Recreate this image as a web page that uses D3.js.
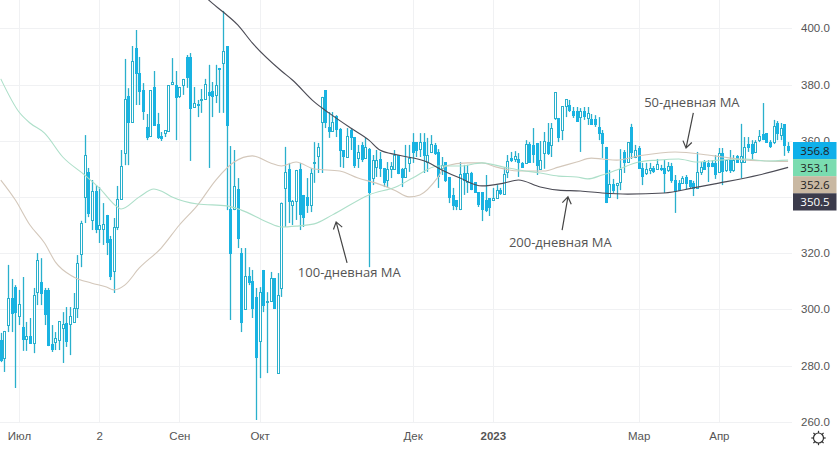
<!DOCTYPE html>
<html>
<head>
<meta charset="utf-8">
<script src="https://cdn.jsdelivr.net/npm/d3@7/dist/d3.min.js"></script>
<style>
html,body{margin:0;padding:0;background:#fff;}
svg{display:block;font-family:"Open Sans","Noto Sans",sans-serif;}
</style>
</head>
<body>
<svg id="chart" width="840" height="450"></svg>
<script>
const opens=[289.1,282.6,294.4,304.0,307.9,297.6,293.7,289.4,290.5,288.0,306.1,309.7,306.9,306.9,287.6,288.4,289.1,293.3,295.1,294.8,295.5,300.5,319.7,340.0,348.9,331.8,342.1,328.6,328.6,333.6,325.0,313.6,329.3,339.2,355.6,375.9,366.6,393.0,384.1,378.0,364.9,361.7,379.1,366.0,361.7,362.7,363.4,380.2,379.8,375.9,379.8,389.8,389.8,372.0,373.1,374.5,374.8,377.3,377.7,376.3,385.9,387.6,393.7,335.7,335.7,342.8,320.0,300.1,311.8,310.1,304.4,288.7,314.0,302.9,303.0,311.1,277.3,307.6,343.2,349.9,337.1,338.5,349.9,340.7,340.0,337.1,352.1,354.6,366.6,378.0,364.9,363.4,368.8,364.2,356.7,354.2,363.8,361.3,353.8,358.5,353.8,357.0,346.7,350.6,353.5,350.3,346.0,349.9,349.9,354.9,349.9,347.1,352.1,359.5,359.5,357.0,359.5,352.4,356.0,358.5,356.0,350.3,352.4,347.1,340.7,338.9,335.7,348.5,345.3,348.5,345.3,341.7,341.7,338.9,339.6,338.9,339.6,342.4,341.0,348.9,353.8,353.5,353.5,352.1,352.1,358.8,358.5,359.2,350.0,355.6,359.5,358.5,368.1,368.1,363.8,372.3,372.7,370.6,370.6,368.4,370.6,368.1,367.7,367.7,364.9,362.7,357.8,340.0,344.6,344.2,345.3,356.0,352.4,364.9,354.2,357.4,350.3,348.5,349.6,350.3,349.9,350.3,350.3,349.6,351.0,346.0,344.9,345.0,347.1,346.0,345.0,343.2,348.9,352.4,352.1,352.1,352.1,348.9,355.6,349.6,353.1,349.6,354.6,352.4,352.4,358.8,358.8,356.0,360.2,362.4,362.7,359.5,359.5,366.3,362.0,365.9,358.1];
const highs=[291.6,292.3,315.8,310.8,308.6,306.9,311.5,295.5,296.9,307.6,320.0,318.2,307.6,307.6,294.4,291.9,295.8,299.0,300.8,300.8,305.8,319.3,331.5,362.0,350.3,346.0,344.2,343.5,337.8,333.6,326.1,332.5,343.9,356.7,389.1,378.7,393.7,399.4,389.8,380.5,369.5,378.0,384.8,369.9,363.1,363.8,379.8,389.4,384.8,379.1,382.0,390.5,391.2,379.1,374.5,378.4,382.0,387.0,380.9,387.0,385.9,406.2,393.7,358.1,356.7,346.7,321.8,321.8,315.0,314.0,307.6,307.9,314.0,306.1,313.3,311.1,312.9,338.0,357.8,352.1,338.9,349.6,352.1,340.7,346.7,350.3,359.5,359.2,375.6,378.0,370.2,370.2,369.1,364.5,356.7,364.5,364.5,361.3,358.5,359.5,361.0,357.4,354.9,356.7,356.0,350.3,352.4,352.4,356.7,354.9,350.3,358.5,358.5,362.7,359.5,362.7,362.7,361.0,362.0,359.2,357.0,354.2,352.4,347.1,343.2,338.9,352.4,351.4,351.4,348.9,345.3,341.7,341.7,347.8,339.6,343.2,344.2,343.2,350.6,354.9,356.0,356.3,355.6,352.4,360.2,359.5,364.5,359.2,359.9,363.1,366.3,366.3,377.3,368.1,372.3,374.8,374.5,372.0,372.0,371.6,372.0,372.0,369.5,369.1,368.4,363.8,357.8,349.6,346.4,345.0,357.0,356.7,359.5,366.0,358.5,358.1,352.1,352.1,352.1,351.0,353.5,351.4,353.1,352.4,352.1,347.8,346.0,347.4,347.8,346.0,345.7,356.0,352.4,353.1,353.1,353.1,354.9,357.4,357.4,353.1,356.7,354.9,354.9,366.0,361.3,361.3,360.2,360.2,363.8,373.4,362.7,360.2,367.4,367.0,366.3,365.9,359.5];
const lows=[281.2,277.7,291.9,291.9,272.0,294.4,285.2,285.2,288.0,284.4,301.5,301.5,294.4,286.9,284.8,285.5,285.5,280.9,286.6,283.7,295.5,296.9,315.0,330.7,332.8,328.2,327.1,323.6,322.9,319.3,310.4,305.8,328.2,338.9,351.3,351.3,366.6,372.7,372.7,367.4,360.2,361.3,365.6,360.6,359.9,361.3,363.4,379.8,360.2,375.2,376.3,378.8,352.8,372.0,368.4,369.9,374.8,350.3,368.4,373.4,369.9,369.9,335.3,296.2,335.3,321.8,291.9,300.1,308.6,296.9,260.6,275.5,299.0,277.3,303.0,300.1,277.3,304.4,329.3,330.7,330.0,331.8,328.2,329.3,334.3,334.6,345.0,348.5,348.5,364.5,361.0,363.1,361.3,350.6,350.3,354.2,356.7,350.3,350.3,352.4,353.8,315.0,344.2,347.1,347.1,343.5,343.5,346.7,349.6,348.1,343.5,347.1,348.9,352.1,354.2,354.2,348.5,348.9,355.6,354.9,343.2,347.8,345.3,337.8,335.3,335.3,335.3,340.7,341.4,342.4,341.4,336.4,331.4,334.6,333.2,338.9,339.6,340.7,341.0,346.7,352.4,352.4,347.1,350.3,352.1,352.1,352.1,347.8,349.6,350.0,354.9,354.2,367.4,359.5,360.2,368.4,370.2,368.1,367.0,356.0,367.4,365.6,365.6,364.9,360.2,353.8,337.8,339.6,341.4,339.2,342.4,348.5,352.1,353.5,353.8,350.0,344.2,347.8,348.1,348.5,349.6,349.2,341.4,348.9,345.0,334.3,342.1,344.6,342.8,342.8,340.3,342.8,347.8,349.6,345.3,350.6,346.4,348.5,344.2,348.9,348.5,348.9,352.1,346.7,352.1,356.0,353.1,355.6,359.5,360.2,359.2,357.4,358.8,360.2,360.2,354.6,355.6];
const closes=[281.9,292.3,304.0,298.7,299.0,301.9,289.4,290.5,288.0,305.1,317.5,305.8,298.3,287.3,285.9,289.8,295.8,294.8,288.7,297.6,300.5,316.5,330.7,354.9,334.3,342.1,328.6,330.0,330.4,324.0,311.8,329.3,339.2,351.0,374.8,366.6,388.4,384.1,377.7,370.6,361.3,378.0,365.6,361.3,361.0,363.8,379.8,380.9,375.6,379.1,382.0,382.7,371.6,373.4,372.7,374.8,380.2,376.3,375.9,379.8,385.5,391.9,365.6,320.0,343.9,325.4,295.5,311.8,309.7,300.5,283.0,306.1,301.5,303.0,311.1,300.5,305.1,337.8,348.9,338.5,338.5,349.6,333.9,332.8,337.1,348.5,352.4,357.8,375.6,366.6,363.4,366.6,364.2,356.7,354.6,361.7,361.3,351.4,356.0,353.5,357.8,341.7,353.1,353.1,350.3,345.3,349.9,351.0,354.9,348.5,347.1,350.3,353.8,356.0,356.7,359.5,354.9,354.9,358.8,355.6,347.4,351.4,346.0,340.0,337.1,336.8,348.1,346.0,348.5,342.8,341.7,337.5,335.7,335.3,336.4,339.6,342.4,341.4,348.1,352.8,353.1,354.6,352.4,350.6,358.8,352.4,355.3,351.4,353.1,359.9,355.6,364.5,377.3,361.3,372.3,374.8,370.9,369.1,367.0,370.6,368.8,369.9,366.0,366.0,362.7,359.2,338.2,344.6,342.4,345.0,349.9,352.4,359.5,356.0,356.7,350.3,347.4,349.9,350.3,349.2,351.7,349.9,348.5,351.0,346.0,342.1,342.4,346.7,345.0,343.9,343.2,348.9,350.6,350.0,351.0,351.0,348.1,355.6,349.2,353.1,349.6,353.1,352.4,354.6,357.8,357.8,355.6,359.5,361.7,360.6,359.5,358.1,365.2,362.7,364.5,358.5,356.8];

const ma50Bars=[0,4,8,12,15,20,25,29,31,34,38,44,49,54,59,64,69,74,77,81,86,93,98,103,108,112,115,120,122,128,132,136,142,149,153,158,162,165,169,175,185,194,198,205,210,216];
const ma50Vals=[346.0,338.9,330.0,323.6,316.8,311.5,309.3,307.9,306.9,308.6,314.7,321.8,330.0,337.1,346.0,352.4,354.6,352.1,351.0,352.4,349.9,349.2,346.7,344.9,342.4,340.0,340.7,347.1,351.0,352.1,352.1,350.6,349.2,349.2,350.6,352.4,353.8,353.5,353.1,354.6,356.0,354.9,354.2,353.1,352.8,352.6];
const ma100Bars=[0,5,8,12,17,23,27,32,33,38,42,44,47,54,62,66,73,77,81,86,91,101,109,113,120,126,132,138,142,148,153,158,161,165,169,175,180,186,191,197,204,210,216];
const ma100Vals=[382.0,370.2,366.3,362.7,354.2,347.8,343.2,336.4,335.7,340.0,342.8,342.1,340.0,337.5,336.8,335.3,331.1,329.3,329.6,330.4,333.6,340.7,343.9,346.7,351.0,351.0,352.1,350.6,349.6,348.5,347.4,347.1,346.4,347.8,349.6,352.4,353.1,353.5,352.4,353.1,353.5,352.8,353.1];
const ma200Bars=[54,57,61,65,69,77,80,86,90,96,101,104,109,117,121,126,132,138,142,148,153,159,165,172,182,190,197,208,216];
const ma200Vals=[414.3,410.1,405.8,401.2,394.8,384.8,381.6,373.8,369.9,364.5,360.2,356.7,354.9,352.4,349.6,346.7,343.9,344.9,346.0,343.5,342.4,342.1,341.4,341.0,341.4,343.2,344.9,347.8,350.5];

const gridTicks=[400,380,360,340,320,300,280,260];
const yLabelTicks=[400,380,360,320,300,280,260];
const xTickBars=[5,27,49,71,113,135,175,197];
const xTickLabels=["Июл","2","Сен","Окт","Дек","2023","Мар","Апр"];
const tagValues=[356.8,353.1,352.6,350.5];
const tagFills=["#0fb0ea","#7adcb0","#c9b8a2","#3b3b4b"];
const tagInk=["#222","#222","#222","#fff"];
const noteTexts=["100-дневная МА","200-дневная МА","50-дневная МА"];
const noteBars=[81.5,139.4,176.5];
const notePrices=[311.5,322.2,372];
const arrowFrom=[[95,316.5],[154,328.2],[190,369.9]];
const arrowTo=[[92,331.1],[155.6,340],[188,357.4]];

const W=840,H=450,plotR=792,plotB=422;
const x=d3.scaleLinear().domain([0,216]).range([0.8,788.1]);
const y=d3.scaleLinear().domain([260,400]).range([421.7,28.3]);
const svg=d3.select("#chart");
const defs=svg.append("defs");
defs.append("clipPath").attr("id","plot").append("rect").attr("x",0).attr("y",0).attr("width",plotR).attr("height",plotB);
defs.append("clipPath").attr("id","axisclip").append("rect").attr("x",792).attr("y",0).attr("width",48).attr("height",426);

const grid="#f0f1f3";
const g=svg.append("g");
g.selectAll("line.h").data(gridTicks).join("line").attr("class","h")
 .attr("x1",0).attr("x2",plotR).attr("y1",d=>Math.round(y(d))+.5).attr("y2",d=>Math.round(y(d))+.5).attr("stroke",grid);
g.selectAll("line.v").data(xTickBars).join("line").attr("class","v")
 .attr("x1",d=>Math.round(x(d))+.5).attr("x2",d=>Math.round(x(d))+.5).attr("y1",0).attr("y2",plotB).attr("stroke",grid);

const plot=svg.append("g").attr("clip-path","url(#plot)");
const wickCol="#2ab0cc",fillCol="#19b3e2";
const idx=d3.range(opens.length);
const px=i=>Math.round(x(i))+.5;
plot.selectAll("line.w").data(idx).join("line").attr("class","w")
 .attr("x1",px).attr("x2",px).attr("y1",i=>y(highs[i])).attr("y2",i=>y(lows[i]))
 .attr("stroke",wickCol).attr("stroke-width",1.3);
plot.selectAll("rect.b").data(idx).join("rect").attr("class","b")
 .attr("x",i=>px(i)-1).attr("width",2)
 .attr("y",i=>Math.round(y(Math.max(opens[i],closes[i])))+.5)
 .attr("height",i=>Math.max(1,Math.round(Math.abs(y(opens[i])-y(closes[i])))))
 .attr("fill",i=>closes[i]>=opens[i]?"#fff":fillCol)
 .attr("stroke",i=>closes[i]>=opens[i]?wickCol:fillCol).attr("stroke-width",1);

const line=d3.line().curve(d3.curveMonotoneX);
function ma(bars,vals,col,w){
  plot.append("path").datum(bars.map((b,i)=>[x(b),y(vals[i])]))
   .attr("d",line).attr("fill","none").attr("stroke",col).attr("stroke-width",w);
}
ma(ma50Bars,ma50Vals,"#d3c7ba",1.1);
ma(ma100Bars,ma100Vals,"#addfc9",1.1);
ma(ma200Bars,ma200Vals,"#4b4b55",1.15);

const ax=svg.append("g").attr("clip-path","url(#axisclip)");
const yAxis=d3.axisRight(y).tickValues(yLabelTicks).tickFormat(d=>d.toFixed(1)).tickSize(0).tickPadding(0);
ax.append("g").attr("transform","translate(801,0)").call(yAxis)
 .call(s=>s.select(".domain").remove())
 .call(s=>s.selectAll("text").attr("fill","#555").style("font-size","11.5px").style("font-family","inherit"));

const xAxis=d3.axisBottom(x).tickValues(xTickBars).tickFormat((d,i)=>xTickLabels[i]).tickSize(0).tickPadding(0);
svg.append("g").attr("transform","translate(0,432)").call(xAxis)
 .call(s=>s.select(".domain").remove())
 .call(s=>s.selectAll("text").attr("fill","#555").style("font-size","11.5px").style("font-family","inherit")
   .attr("font-weight",(d,i)=>xTickLabels[i]==="2023"?"700":"400"));

const tagH=17;
const tags=svg.append("g");
tagValues.forEach((v,i)=>{
  const top=142+i*17.1;
  tags.append("rect").attr("x",793).attr("y",top).attr("width",43.5).attr("height",tagH+.2).attr("fill",tagFills[i]);
  tags.append("text").attr("x",815).attr("y",top+12.6).attr("text-anchor","middle")
   .attr("font-size","11.5px").attr("fill",tagInk[i]).text(v.toFixed(1));
});

const notes=svg.append("g");
noteTexts.forEach((t,i)=>{
  notes.append("text").attr("x",x(noteBars[i])).attr("y",y(notePrices[i]))
   .attr("font-size","13px").attr("fill","#555").text(t);
  const x1=x(arrowFrom[i][0]),y1=y(arrowFrom[i][1]),x2=x(arrowTo[i][0]),y2=y(arrowTo[i][1]);
  const a=Math.atan2(y2-y1,x2-x1),s=8;
  const hx=d=>x2-s*Math.cos(a+d),hy=d=>y2-s*Math.sin(a+d);
  notes.append("path").attr("fill","none").attr("stroke","#444").attr("stroke-width",1.2)
   .attr("d",`M${x1},${y1}L${x2},${y2}M${hx(.6)},${hy(.6)}L${x2},${y2}L${hx(-.6)},${hy(-.6)}`);
});

const gear=svg.append("g").attr("transform","translate(818.5,438)").attr("fill","none").attr("stroke","#333").attr("stroke-width",1.2);
gear.append("circle").attr("r",5);
d3.range(8).forEach(k=>{
  const a=k*Math.PI/4;
  gear.append("line").attr("x1",5*Math.cos(a)).attr("y1",5*Math.sin(a)).attr("x2",7.2*Math.cos(a)).attr("y2",7.2*Math.sin(a));
});
</script>
</body>
</html>
